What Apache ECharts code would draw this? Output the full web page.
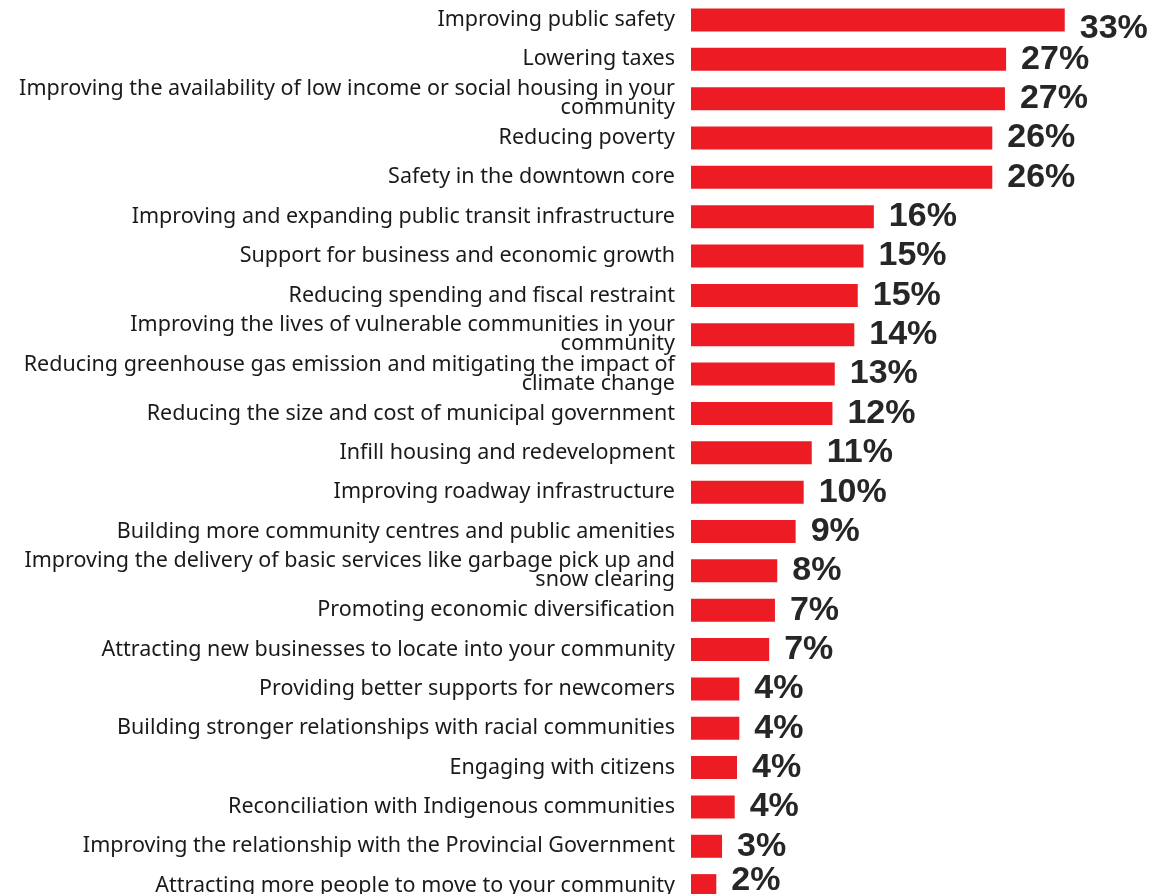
<!DOCTYPE html>
<html>
<head>
<meta charset="utf-8">
<title>Priorities</title>
<script src="https://cdn.jsdelivr.net/npm/echarts@6/dist/echarts.min.js"></script>
<style>
  html, body { margin: 0; padding: 0; background: #fff; }
  #chart { width: 1155px; height: 894px; }
</style>
</head>
<body>
<div id="chart"></div>
<script>
// categories, top to bottom
const priorities = [
  'Improving public safety',
  'Lowering taxes',
  'Improving the availability of low income or social housing in your\ncommunity',
  'Reducing poverty',
  'Safety in the downtown core',
  'Improving and expanding public transit infrastructure',
  'Support for business and economic growth',
  'Reducing spending and fiscal restraint',
  'Improving the lives of vulnerable communities in your\ncommunity',
  'Reducing greenhouse gas emission and mitigating the impact of\nclimate change',
  'Reducing the size and cost of municipal government',
  'Infill housing and redevelopment',
  'Improving roadway infrastructure',
  'Building more community centres and public amenities',
  'Improving the delivery of basic services like garbage pick up and\nsnow clearing',
  'Promoting economic diversification',
  'Attracting new businesses to locate into your community',
  'Providing better supports for newcomers',
  'Building stronger relationships with racial communities',
  'Engaging with citizens',
  'Reconciliation with Indigenous communities',
  'Improving the relationship with the Provincial Government',
  'Attracting more people to move to your community'
];
// share of respondents (%); labels are rounded
const shares = [32.5, 27.4, 27.3, 26.2, 26.2, 15.9, 15.0, 14.5, 14.2, 12.5, 12.3, 10.5,
  9.8, 9.1, 7.5, 7.3, 6.8, 4.2, 4.2, 4.0, 3.8, 2.7, 2.2];

const chart = echarts.init(document.getElementById('chart'));

// label tweaks for the first / last bar (pushed inside the frame)
const barData = shares.map((v, i) => {
  const item = { value: v };
  if (i === 0) item.label = { offset: [0, 9] };
  if (i === shares.length - 1) item.label = { offset: [0, -5] };
  return item;
});

chart.setOption({
  animation: false,
  // last row runs past the bottom edge, as in the original
  grid: {
    left: 691, right: 4, top: 0.3, height: 905,
    containLabel: false,
    outerBoundsMode: 'none'
  },
  xAxis: {
    type: 'value',
    min: 0,
    max: 40,
    show: false
  },
  yAxis: {
    type: 'category',
    inverse: true,
    data: priorities,
    axisLine: { show: false },
    axisTick: { show: false },
    axisLabel: {
      margin: 16,
      color: '#1a1a1a',
      fontSize: 21.5,
      lineHeight: 19,
      fontFamily: 'Noto Sans'
    }
  },
  series: [{
    type: 'bar',
    data: barData,
    barWidth: 23,
    itemStyle: { color: '#ED1C24' },
    label: {
      show: true,
      position: 'right',
      distance: 15,
      color: '#262626',
      fontSize: 34,
      fontWeight: 'bold',
      fontFamily: 'Liberation Sans',
      formatter: p => Math.round(p.value) + '%'
    }
  }]
});
</script>
</body>
</html>
